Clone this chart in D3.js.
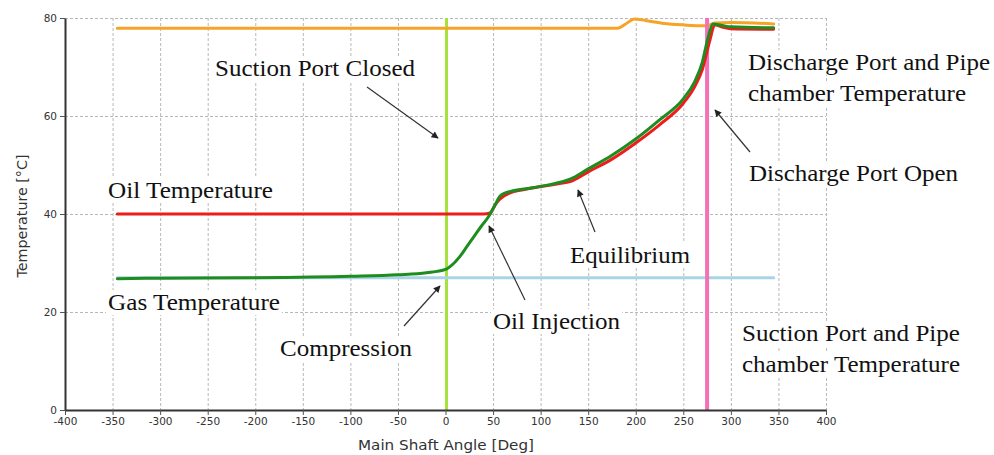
<!DOCTYPE html>
<html>
<head>
<meta charset="utf-8">
<script src="https://cdn.jsdelivr.net/npm/d3@7"></script>
<style>
  html, body { margin: 0; padding: 0; background: #fff; }
  svg { display: block; }
</style>
</head>
<body>
<svg id="chart" width="994" height="455"></svg>
<script>
// Axis ticks
const xTicks = [-400, -350, -300, -250, -200, -150, -100, -50, 0, 50, 100, 150, 200, 250, 300, 350, 400];
const yTicks = [0, 20, 40, 60, 80];

// Discharge port and pipe chamber temperature [angle, °C]
const dischargeChamber = [
  [-345, 77.9], [-200, 77.9], [0, 77.9], [100, 77.9], [181, 77.9], [188, 78.6],
  [199, 79.8], [210, 79.5], [230, 78.9], [250, 78.6], [275, 78.4], [283, 79.0],
  [300, 79.1], [345, 78.8]
];
// Oil temperature
const oilTemp = [
  [-345, 40], [-200, 40], [0, 40], [40, 40], [47, 40.2], [52, 41.8], [57, 43.0],
  [68, 44.3], [80, 44.9], [100, 45.6], [120, 46.2], [131, 46.6], [150, 48.6],
  [175, 51.2], [200, 54.5], [225, 58.2], [250, 62.6], [262, 66.0], [270, 69.5],
  [278, 75.5], [283, 78.6], [290, 78.2], [300, 77.8], [345, 77.7]
];
// Gas temperature
const gasTemp = [
  [-345, 26.8], [-300, 26.9], [-200, 27.0], [-100, 27.3], [-50, 27.6], [-20, 28.0],
  [0, 28.7], [8, 29.8], [15, 31.3], [23, 33.5], [31, 35.7], [38, 37.6], [45, 39.4],
  [52, 41.8], [57, 43.6], [63, 44.3], [70, 44.7], [90, 45.3], [110, 46.0], [131, 47.1],
  [150, 49.2], [175, 52.0], [200, 55.3], [225, 59.2], [250, 63.5], [262, 67.0],
  [270, 71.0], [276, 76.0], [281, 78.8], [290, 78.5], [300, 78.2], [345, 78.0]
];
// Suction port and pipe chamber temperature
const suctionChamber = [[-345, 27.0], [0, 27.0], [345, 27.0]];

// Event markers
const suctionClosedAngle = 0;
const dischargeOpenAngle = 275;

const svg = d3.select("#chart");
const plotLeft = 65, plotRight = 826, plotTop = 18, plotBottom = 410;

const x = d3.scaleLinear().domain([-400, 400]).range([plotLeft, plotRight]);
const y = d3.scaleLinear().domain([0, 80]).range([plotBottom, plotTop]);

// Grid
const grid = svg.append("g").attr("stroke", "#b8b8b8").attr("stroke-width", 1).attr("stroke-dasharray", "3,2");
grid.selectAll("line.v").data(xTicks.slice(1)).join("line").attr("class", "v")
  .attr("x1", d => x(d) + 0.5).attr("x2", d => x(d) + 0.5).attr("y1", plotTop).attr("y2", plotBottom);
grid.selectAll("line.h").data(yTicks.slice(1)).join("line").attr("class", "h")
  .attr("y1", d => Math.round(y(d)) + 0.5).attr("y2", d => Math.round(y(d)) + 0.5).attr("x1", plotLeft).attr("x2", plotRight);

// Series
const line = d3.line().x(d => x(d[0])).y(d => y(d[1])).curve(d3.curveMonotoneX);
const series = [
  { data: suctionChamber, color: "#a8d4e6", width: 3 },
  { data: dischargeChamber, color: "#f5a428", width: 3 },
  { data: oilTemp, color: "#ee1c1c", width: 3 },
  { data: gasTemp, color: "#1e8c1e", width: 3 }
];

// Vertical event lines
svg.append("line").attr("x1", x(suctionClosedAngle) + 1).attr("x2", x(suctionClosedAngle) + 1)
  .attr("y1", plotTop).attr("y2", plotBottom).attr("stroke", "#a6e23c").attr("stroke-width", 3);

series.slice(0, 2).forEach(s => {
  svg.append("path").datum(s.data).attr("d", line).attr("fill", "none")
    .attr("stroke", s.color).attr("stroke-width", s.width).attr("stroke-linecap", "round");
});

svg.append("line").attr("x1", x(dischargeOpenAngle)).attr("x2", x(dischargeOpenAngle))
  .attr("y1", plotTop).attr("y2", plotBottom).attr("stroke", "#f272b8").attr("stroke-width", 4);

series.slice(2).forEach(s => {
  svg.append("path").datum(s.data).attr("d", line).attr("fill", "none")
    .attr("stroke", s.color).attr("stroke-width", s.width).attr("stroke-linecap", "round");
});

// Axes (plain hyphen for negative ticks)
const fmt = d => String(d);
const xAxis = svg.append("g").attr("transform", `translate(0,${plotBottom})`)
  .call(d3.axisBottom(x).tickValues(xTicks).tickFormat(fmt).tickSize(5).tickSizeOuter(0).tickPadding(3));
const yAxis = svg.append("g").attr("transform", `translate(${plotLeft},0)`)
  .call(d3.axisLeft(y).tickValues(yTicks).tickFormat(fmt).tickSize(5).tickSizeOuter(0).tickPadding(3));
[xAxis, yAxis].forEach(a => {
  a.select(".domain").attr("stroke", "#333").attr("stroke-width", 2);
  a.selectAll(".tick line").attr("stroke", "#555");
  a.selectAll(".tick text").attr("fill", "#333").attr("font-family", "DejaVu Sans").attr("font-size", 10.5);
});

svg.append("text").attr("x", 446).attr("y", 450).attr("text-anchor", "middle")
  .attr("font-family", "DejaVu Sans").attr("font-size", 14).attr("fill", "#333")
  .attr("textLength", 176).attr("lengthAdjust", "spacingAndGlyphs")
  .text("Main Shaft Angle [Deg]");
svg.append("text").attr("transform", "translate(27,216) rotate(-90)").attr("text-anchor", "middle")
  .attr("font-family", "DejaVu Sans").attr("font-size", 13.5).attr("fill", "#333")
  .attr("textLength", 123).attr("lengthAdjust", "spacingAndGlyphs")
  .text("Temperature [°C]");

// Annotation labels on white boxes
const labels = [
  { t: "Suction Port Closed", x: 215, y: 76, w: 200 },
  { t: "Oil Temperature", x: 108, y: 198, w: 165 },
  { t: "Gas Temperature", x: 108, y: 310, w: 172 },
  { t: "Compression", x: 280, y: 356, w: 132 },
  { t: "Oil Injection", x: 493, y: 329, w: 127 },
  { t: "Equilibrium", x: 570, y: 263, w: 120 },
  { t: "Discharge Port and Pipe", x: 748, y: 70, w: 242 },
  { t: "chamber Temperature", x: 748, y: 101, w: 218 },
  { t: "Discharge Port Open", x: 749, y: 181, w: 209 },
  { t: "Suction Port and Pipe", x: 742, y: 341, w: 218 },
  { t: "chamber Temperature", x: 742, y: 372, w: 218 }
];
const lab = svg.append("g");
labels.forEach(l => {
  const g = lab.append("g");
  const rect = g.append("rect").attr("fill", "#fff");
  const txt = g.append("text").attr("x", l.x).attr("y", l.y)
    .attr("font-family", "Liberation Serif").attr("font-size", 23).attr("fill", "#111")
    .attr("textLength", l.w).attr("lengthAdjust", "spacingAndGlyphs").text(l.t);
  const b = txt.node().getBBox();
  rect.attr("x", b.x - 2).attr("y", b.y).attr("width", b.width + 4).attr("height", b.height);
});

// Arrows
svg.append("defs").append("marker").attr("id", "ah").attr("viewBox", "0 0 10 10")
  .attr("refX", 9).attr("refY", 5).attr("markerWidth", 9).attr("markerHeight", 7)
  .attr("markerUnits", "userSpaceOnUse").attr("orient", "auto")
  .append("path").attr("d", "M0,0 L10,5 L0,10 Z").attr("fill", "#222");
const arrows = [
  [367, 87, 438, 138],
  [404, 326, 440, 286],
  [525, 300, 489, 226],
  [595, 232, 578, 190],
  [750, 152, 715, 110]
];
svg.append("g").selectAll("line").data(arrows).join("line")
  .attr("x1", d => d[0]).attr("y1", d => d[1]).attr("x2", d => d[2]).attr("y2", d => d[3])
  .attr("stroke", "#333").attr("stroke-width", 1.2).attr("marker-end", "url(#ah)");
</script>
</body>
</html>
